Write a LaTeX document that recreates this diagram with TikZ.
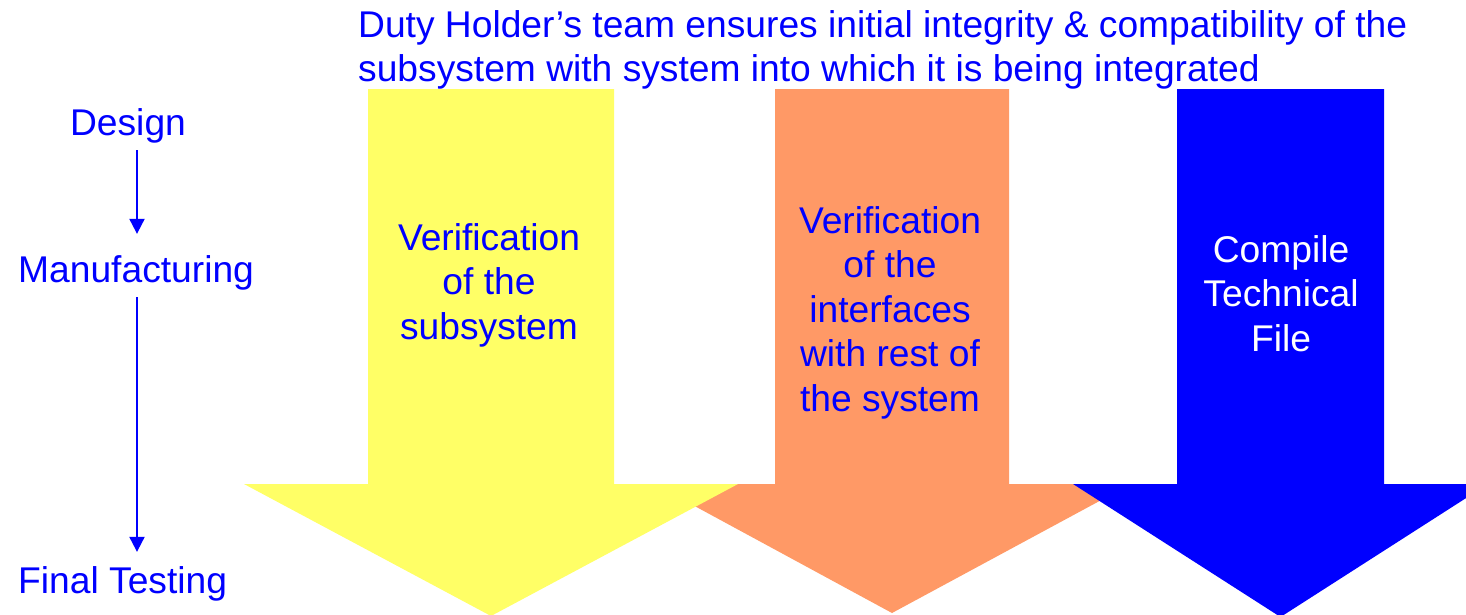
\documentclass[tikz,border=0pt]{standalone}
\usepackage{fontspec}
\setmainfont{Liberation Sans}
\usetikzlibrary{arrows.meta}
\definecolor{txtblue}{RGB}{0,0,255}
\definecolor{yel}{RGB}{255,255,102}
\definecolor{ora}{RGB}{255,153,102}
\definecolor{arrblue}{RGB}{0,0,255}
\newcommand{\mlines}[2][c]{\begin{tabular}[t]{@{}#1@{}}#2\end{tabular}}
\begin{document}
\begin{tikzpicture}[x=1pt,y=-1pt,
  lbl/.style={font=\fontsize{37.2}{44.5}\selectfont, text=txtblue, inner sep=0pt, anchor=base},
  flow/.style={draw=txtblue, line width=2pt, -{Triangle[width=15pt,length=15pt]}}]
\useasboundingbox (0,0) rectangle (1466,614);
% big arrows (orange behind, then yellow, then blue)
\fill[ora] (775,89) -- (1009,89) -- (1009,484) -- (1131,484) -- (892,613) -- (654,484) -- (775,484) -- cycle;
\fill[yel] (368,89) -- (614,89) -- (614,484) -- (738,484) -- (491,616) -- (244,484) -- (368,484) -- cycle;
\fill[arrblue] (1177,89) -- (1384,89) -- (1384,484) -- (1488,484) -- (1280.5,617) -- (1073,484) -- (1177,484) -- cycle;
% title
\node[lbl, anchor=base west] (title) at (358,37) {\mlines[l]{Duty Holder’s team ensures initial integrity \& compatibility of the\\subsystem with system into which it is being integrated}};
% arrow texts
\node[lbl] (ver1) at (489,250) {\mlines{Verification\\of the\\subsystem}};
\node[lbl] (ver2) at (890,233) {\mlines{Verification\\of the\\interfaces\\with rest of\\the system}};
\node[lbl, text=white] (tech) at (1281,262) {\mlines{Compile\\Technical\\File}};
% phases
\coordinate (ax) at (137,0);
\node[lbl] (design) at (128,135) {Design};
\node[lbl, anchor=base west] (manu) at (18,282) {Manufacturing};
\node[lbl, anchor=base west] (final) at (18,593) {Final Testing};
\draw[flow, shorten <=7.5pt, shorten >=21pt] (design.south -| ax) -- (manu.north -| ax);
\draw[flow, shorten <=7.5pt, shorten >=14pt] (manu.south -| ax) -- (final.north -| ax);
\end{tikzpicture}
\end{document}
